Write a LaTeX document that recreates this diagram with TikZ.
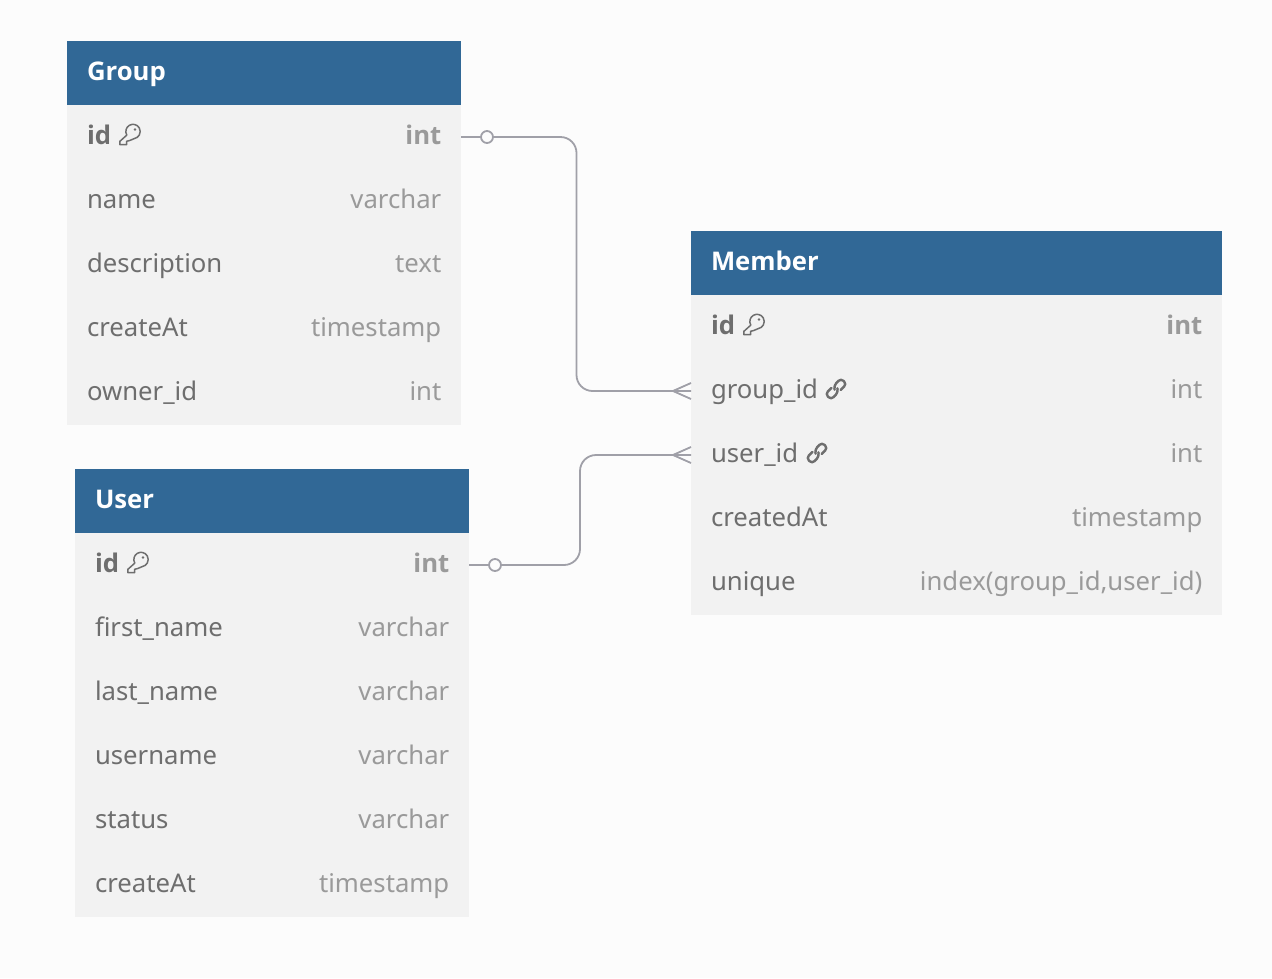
\documentclass[tikz,border=0pt]{standalone}
\usepackage{xcolor}
\usepackage{fontspec}
\usepackage{tikz}
\usetikzlibrary{positioning}
\setmainfont{Noto Sans}
\newfontfamily\boldfam{Open Sans}[BoldFont={Open Sans Bold}]
\definecolor{headblue}{HTML}{316896}
\definecolor{rowgray}{HTML}{F2F2F2}
\definecolor{pagegray}{HTML}{FCFCFC}
\definecolor{namegray}{HTML}{6E6E6E}
\definecolor{typegray}{HTML}{9A9A9A}
\definecolor{linegray}{HTML}{A0A0A8}
\newcommand{\keyfield}[1]{{\boldfam\bfseries #1}}
\tikzset{
  tablehead/.style={fill=headblue, text=white, font=\fontsize{25.7}{30}\selectfont\boldfam\bfseries, inner xsep=20pt, inner ysep=0pt, outer sep=0pt, minimum height=64pt, text width=#1, align=left, text height=19pt, text depth=5pt},
  fieldrow/.style={fill=rowgray, text=namegray, font=\fontsize{25.7}{30}\selectfont, inner xsep=20pt, inner ysep=0pt, outer sep=0pt, minimum height=64pt, text width=#1, align=left, text height=22pt, text depth=8pt},
  fieldtype/.style={text=typegray, font=\fontsize{25.7}{30}\selectfont, anchor=east, xshift=-19.5pt, inner sep=0pt, text height=22pt, text depth=8pt},
  relline/.style={draw=linegray, line width=1.8pt, rounded corners=16pt},
  zerocircle/.style={circle, draw=linegray, fill=pagegray, line width=1.8pt, minimum size=12pt, inner sep=0pt},
  keyicon/.pic={
    \draw[namegray, line width=1.5pt, line join=round] (-3.2,0.1) arc [start angle=150, end angle=440, radius=7.2] -- (-0.5,5.6) -- (-3.3,6.2) -- (-3.3,9.6) -- (-10.2,9.6) -- (-10.2,6.4) -- cycle;
    \fill[namegray] (5,-5.5) circle (1.3pt);
  },
  linkicon/.pic={
    \draw[namegray, line width=2.4pt, rounded corners=3.4pt, line cap=round, rotate=45] (-2.5,-4) -- (-11,-4) -- (-11,4) -- (-1,4) -- (1.5,0.5);
    \draw[namegray, line width=2.4pt, rounded corners=3.4pt, line cap=round, rotate=45] (2.5,4) -- (11,4) -- (11,-4) -- (1,-4) -- (-1.5,-0.5);
  },
  crowfoot/.pic={
    \draw[linegray, line width=1.8pt] (0,-8) -- (-18,0) -- (0,8);
  }
}
\begin{document}
\begin{tikzpicture}[x=1pt, y=-1pt]
\fill[pagegray] (0,0) rectangle (1272,978);
\useasboundingbox (0,0) rectangle (1272,978);

% Group
\node[tablehead=354pt] (ghead) at (264,73) {Group};
\node[fieldrow=354pt] (gid) at (264,137) {\keyfield{id}};
\node[fieldtype] at (gid.east) {\keyfield{int}};
\pic at ([shift={(63,-2)}]gid.west) {keyicon};
\node[fieldrow=354pt] (gname) at (264,201) {name};
\node[fieldtype] at (gname.east) {varchar};
\node[fieldrow=354pt] (gdesc) at (264,265) {description};
\node[fieldtype] at (gdesc.east) {text};
\node[fieldrow=354pt] (gcreate) at (264,329) {createAt};
\node[fieldtype] at (gcreate.east) {timestamp};
\node[fieldrow=354pt] (gowner) at (264,393) {owner\_id};
\node[fieldtype] at (gowner.east) {int};

% User
\node[tablehead=354pt] (uhead) at (272,501) {User};
\node[fieldrow=354pt] (uid) at (272,565) {\keyfield{id}};
\node[fieldtype] at (uid.east) {\keyfield{int}};
\pic at ([shift={(63,-2)}]uid.west) {keyicon};
\node[fieldrow=354pt] (ufirst) at (272,629) {first\_name};
\node[fieldtype] at (ufirst.east) {varchar};
\node[fieldrow=354pt] (ulast) at (272,693) {last\_name};
\node[fieldtype] at (ulast.east) {varchar};
\node[fieldrow=354pt] (uuser) at (272,757) {username};
\node[fieldtype] at (uuser.east) {varchar};
\node[fieldrow=354pt] (ustatus) at (272,821) {status};
\node[fieldtype] at (ustatus.east) {varchar};
\node[fieldrow=354pt] (ucreate) at (272,885) {createAt};
\node[fieldtype] at (ucreate.east) {timestamp};

% Member
\node[tablehead=491pt] (mhead) at (956.5,263) {Member};
\node[fieldrow=491pt] (mid) at (956.5,327) {\keyfield{id}};
\node[fieldtype] at (mid.east) {\keyfield{int}};
\pic at ([shift={(63,-2)}]mid.west) {keyicon};
\node[fieldrow=491pt] (mgroup) at (956.5,391) {group\_id};
\node[fieldtype] at (mgroup.east) {int};
\pic at ([shift={(145,-2)}]mgroup.west) {linkicon};
\node[fieldrow=491pt] (muser) at (956.5,455) {user\_id};
\node[fieldtype] at (muser.east) {int};
\pic at ([shift={(126,-2)}]muser.west) {linkicon};
\node[fieldrow=491pt] (mcreate) at (956.5,519) {createdAt};
\node[fieldtype] at (mcreate.east) {timestamp};
\node[fieldrow=491pt] (munique) at (956.5,583) {unique};
\node[fieldtype] at (munique.east) {index(group\_id,user\_id)};

% relations
\coordinate (gbend) at (576.5,260);
\coordinate (ubend) at (580,510);
\draw[relline] (gid.east) -| (gbend) |- (mgroup.west);
\draw[relline] (uid.east) -| (ubend) |- (muser.west);
\node[zerocircle] (gzero) at ([xshift=26pt]gid.east) {};
\node[zerocircle] (uzero) at ([xshift=26pt]uid.east) {};
\pic at (mgroup.west) {crowfoot};
\pic at (muser.west) {crowfoot};
\end{tikzpicture}
\end{document}
